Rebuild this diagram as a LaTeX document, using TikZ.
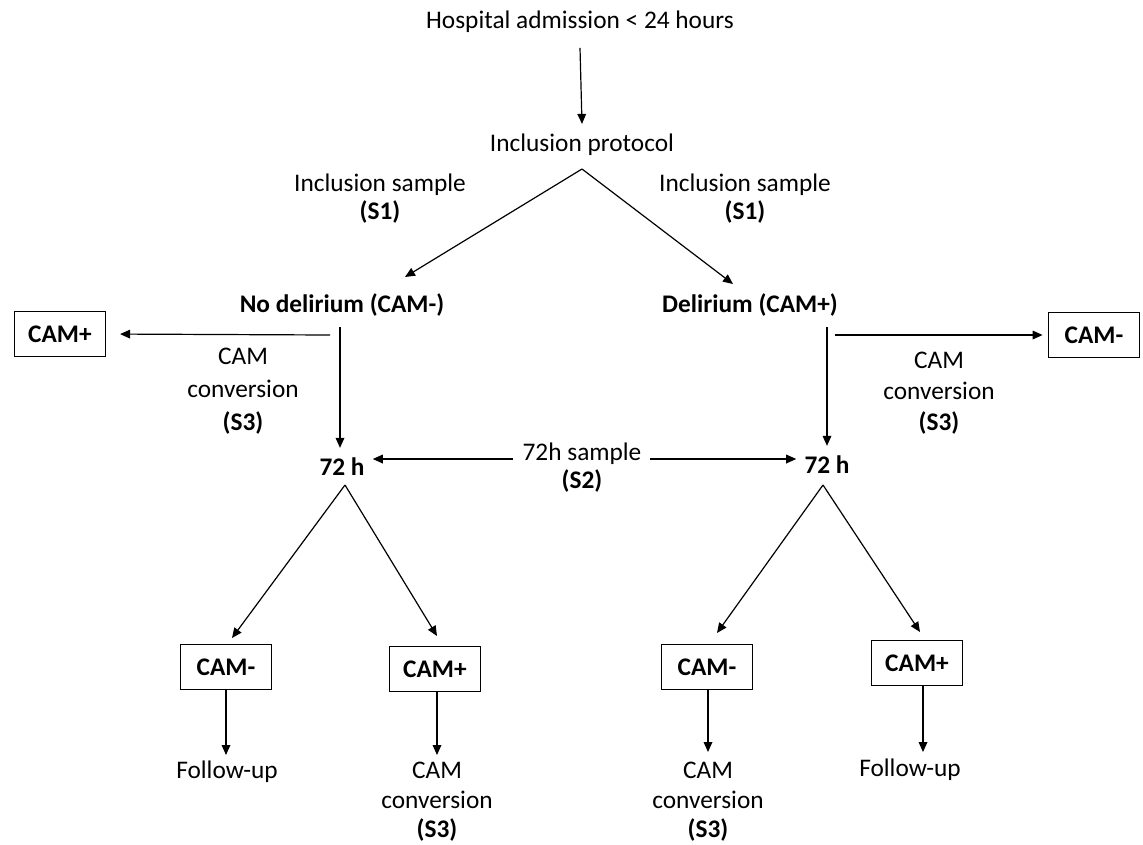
\documentclass[tikz,border=0pt]{standalone}
\usepackage{fontspec}
\setmainfont{Carlito}
\usetikzlibrary{arrows.meta}
\begin{document}
\begin{tikzpicture}[x=0.75pt,y=-0.75pt,
  txt/.style={inner sep=0pt, align=center, font=\fontsize{19}{23}\selectfont},
  btxt/.style={inner sep=0pt, align=center, font=\fontsize{19}{23}\selectfont\bfseries},
  box/.style={draw, line width=1.1pt, inner sep=0pt, minimum width=68pt, minimum height=33.5pt, font=\fontsize{19}{23}\selectfont\bfseries},
  arr/.style={-{Triangle[length=7.5pt,width=6.5pt]}, line width=0.9pt},
  ln/.style={line width=0.9pt}]
\useasboundingbox (0,0) rectangle (1143,844);

% top
\node[txt] (hosp) at (580,22) {Hospital admission < 24 hours};
\node[txt] (incl) at (582,145) {Inclusion protocol};
\draw[arr] ([yshift=-11pt]hosp.south) -- ([yshift=7.5pt]incl.north);

\coordinate (ap1) at (582,169);
\coordinate (tipL) at (405,277);
\coordinate (tipR) at (733,284);
\node[txt, font=\fontsize{19}{21}\selectfont] (isL) at (380,199) {Inclusion sample\\\textbf{(S1)}};
\node[txt, font=\fontsize{19}{21}\selectfont] (isR) at (745,199) {Inclusion sample\\\textbf{(S1)}};

\node[btxt] (nd) at (342,305) {No delirium (CAM-)};
\node[btxt] (dl) at (750,305) {Delirium (CAM+)};
\draw[arr] (ap1) -- (tipL);
\draw[arr] (ap1) -- (tipR);

% side boxes
\node[box] (b1) at (60,334) {CAM+};
\node[box] (b2) at (1094,335) {CAM-};
\coordinate (cL) at (330,335);
\coordinate (cR) at (835,335);
\draw[arr, shorten >=10.5pt] (cL) -- (b1.east);
\draw[arr, shorten >=4pt] (cR) -- (b2.west);
\node[txt, font=\fontsize{19}{24.7}\selectfont] (s3L) at (243,391) {CAM\\conversion\\\textbf{(S3)}};
\node[txt, font=\fontsize{19}{23.2}\selectfont] (s3R) at (939,393) {CAM\\conversion\\\textbf{(S3)}};

% 72 h
\node[btxt] (l72) at (342,467) {72 h};
\node[btxt] (r72) at (827,465) {72 h};
\coordinate (vL) at (340,327);
\coordinate (vR) at (827,327);
\draw[arr, shorten >=7.5pt] (vL) -- (vL |- l72.north);
\draw[arr, shorten >=7.5pt] (vR) -- (r72.north);

\node[txt] (s2a) at (582,454) {72h sample};
\node[btxt] (s2b) at (582,481) {(S2)};
\coordinate (s2L) at (513,459);
\coordinate (s2R) at (650,459);
\draw[arr, shorten >=6pt] (s2L) -- (s2L -| l72.east);
\draw[arr, shorten >=6pt] (s2R) -- (s2R -| r72.west);

% lower splits
\coordinate (ap2) at (345,485);
\coordinate (ap3) at (823,485);
\coordinate (t3) at (232,638);
\coordinate (t4) at (437,636);
\coordinate (t5) at (717,633);
\coordinate (t6) at (920,632);
\draw[arr] (ap2) -- (t3);
\draw[arr] (ap2) -- (t4);
\draw[arr] (ap3) -- (t5);
\draw[arr] (ap3) -- (t6);

\node[box] (b3) at (226,667) {CAM-};
\node[box] (b4) at (435,669) {CAM+};
\node[box] (b5) at (707,667) {CAM-};
\node[box] (b6) at (917,663) {CAM+};

\node[txt] (f1) at (227,772) {Follow-up};
\node[txt, font=\fontsize{19}{22}\selectfont] (c1) at (437,802) {CAM\\conversion\\\textbf{(S3)}};
\node[txt, font=\fontsize{19}{22}\selectfont] (c2) at (708,802) {CAM\\conversion\\\textbf{(S3)}};
\node[txt] (f2) at (910,770) {Follow-up};

\coordinate (d3) at (226,755);
\coordinate (d4) at (437,755);
\coordinate (d5) at (708,752);
\coordinate (d6) at (923,752);
\draw[arr] (b3.south) -- (d3);
\draw[arr] (b4.south -| d4) -- (d4);
\draw[arr] (b5.south -| d5) -- (d5);
\draw[arr] (b6.south -| d6) -- (d6);
\end{tikzpicture}
\end{document}
